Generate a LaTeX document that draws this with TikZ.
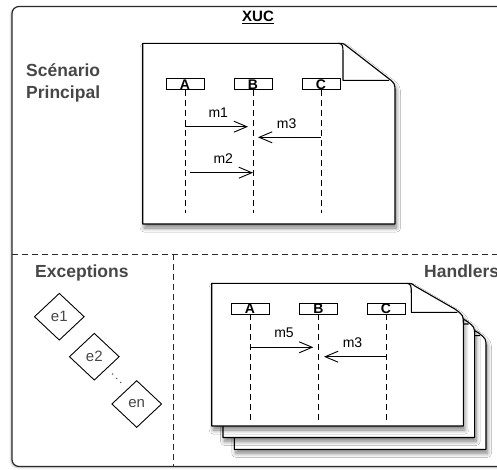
\documentclass[tikz,border=0pt]{standalone}
\usepackage{fontspec}
\setmainfont{Liberation Sans}
\usetikzlibrary{shapes.geometric,arrows.meta,shadows.blur}
\definecolor{ttl}{HTML}{474747}
\definecolor{frm}{HTML}{2A2A2A}
\tikzset{
 docline/.style={line width=1.1pt, black, line join=round},
 docshadow/.style={blur shadow={shadow xshift=1.5pt, shadow yshift=-4pt, shadow blur radius=4pt, shadow blur steps=10, shadow opacity=50}},
 lifebox/.style={draw, line width=0.9pt, fill=white, minimum width=38pt, minimum height=11pt, inner sep=0pt, text depth=0pt, text height=10pt, font=\fontsize{14}{14}\selectfont\bfseries},
 lifeline/.style={dash pattern=on 6pt off 4pt, line width=0.9pt},
 msg/.style={line width=0.9pt, -{Straight Barb[length=13pt,width=11pt,line width=0.9pt]}},
 msglabel/.style={inner sep=0pt, font=\fontsize{14}{14}\selectfont},
 sectitle/.style={inner sep=0pt, text=ttl, font=\fontsize{17.5}{21.6}\selectfont\bfseries},
 exc/.style={draw, shape=diamond, line width=0.9pt, minimum width=50pt, minimum height=47pt, inner sep=0pt, text=ttl, font=\fontsize{15}{15}\selectfont},
 divider/.style={dash pattern=on 6pt off 4pt, line width=0.8pt, frm},
}
% L T R B f
\newcommand\mydoc[5]{%
 \draw[docline, fill=white, docshadow] (#1,#2) -- ({#3-57},#2) .. controls ({#3-52},#2) .. ({#3-48},{#2+3}) -- ({#3-8},{#2+#5-3}) .. controls (#3,{#2+#5+3}) .. (#3,{#2+#5+12}) -- (#3,#4) -- (#1,#4) -- cycle;
 \draw[docline] ({#3-57},#2) .. controls ({#3-52},#2) and ({#3-52},{#2+3}) .. ({#3-52},{#2+10}) -- ({#3-52},{#2+#5}) -- ({#3-6},{#2+#5});
}
\begin{document}
\begin{tikzpicture}[x=1pt,y=-1pt]
\useasboundingbox (0,0) rectangle (497,469);
% outer frame
\draw[line width=1.2pt, frm, fill=white, rounded corners=7pt, blur shadow={shadow xshift=-1pt, shadow yshift=-1pt, shadow blur radius=2pt, shadow opacity=30}] (12,6.5) rectangle (515,466.5);
\node[inner sep=0pt, font=\fontsize{15}{15}\selectfont\bfseries, anchor=base] (xuc) at (258,21.5) {\underline{XUC}};
% dividers
\draw[divider] (12,254) -- (515,254);
\draw[divider] (173,254) -- (173,466.5);
% section titles
\node[sectitle, anchor=base west] (scen1) at (26,76.7) {Scénario};
\node[sectitle, anchor=base west] (scen2) at (26,98.3) {Principal};
\node[sectitle, anchor=base west] (exct) at (35,277.3) {Exceptions};
\node[sectitle, anchor=base west] (hdl) at (424,277.5) {Handlers};
% main scenario document
\mydoc{142.7}{43.3}{395}{224}{37}
\node[lifebox] (A1) at (185,84) {A};
\node[lifebox] (B1) at (253,84) {B};
\node[lifebox] (C1) at (321,84) {C};
\coordinate (A1e) at (185,213);
\coordinate (B1e) at (253,213);
\coordinate (C1e) at (321,213);
\draw[lifeline] (A1.south) -- (A1e);
\draw[lifeline] (B1.south) -- (B1e);
\draw[lifeline] (C1.south) -- (C1e);
\coordinate (m1s) at (185,126.7); \coordinate (m1e) at (248,126.7);
\coordinate (m3s) at (321,137.3); \coordinate (m3e) at (258,137.3);
\coordinate (m2s) at (190,172.7); \coordinate (m2e) at (253,172.7);
\draw[msg] (m1s) -- (m1e);
\draw[msg] (m3s) -- (m3e);
\draw[msg] (m2s) -- (m2e);
\node[msglabel] (lm1) at (218.3,112.3) {m1};
\node[msglabel] (lm3) at (286.7,123.3) {m3};
\node[msglabel] (lm2) at (223.3,158.7) {m2};
% exceptions
\node[exc] (e1) at (59.3,316.7) {e1};
\node[exc] (e2) at (94.3,356.7) {e2};
\node[exc] (en) at (136.7,404) {en};
\fill[ttl] (112.7,374) circle (0.75pt) (116.7,378.3) circle (0.75pt) (120.7,382.3) circle (0.75pt);
% handler documents
\mydoc{234.3}{306.6}{486}{449.3}{29}
\mydoc{223}{295}{474.6}{437.5}{29}
\mydoc{211.7}{283.3}{463.3}{426}{29}
\node[lifebox] (A2) at (250,308.5) {A};
\node[lifebox] (B2) at (318.3,308.5) {B};
\node[lifebox] (C2) at (386,308.5) {C};
\coordinate (A2e) at (250,422.7);
\coordinate (B2e) at (318.3,422.7);
\coordinate (C2e) at (386,422.7);
\draw[lifeline] (A2.south) -- (A2e);
\draw[lifeline] (B2.south) -- (B2e);
\draw[lifeline] (C2.south) -- (C2e);
\coordinate (m5s) at (250,347.3); \coordinate (m5e) at (313.3,347.3);
\coordinate (m3bs) at (386,356.7); \coordinate (m3be) at (324,356.7);
\draw[msg] (m5s) -- (m5e);
\draw[msg] (m3bs) -- (m3be);
\node[msglabel] (lm5) at (284,333) {m5};
\node[msglabel] (lm3b) at (352.5,342.8) {m3};
\end{tikzpicture}
\end{document}
